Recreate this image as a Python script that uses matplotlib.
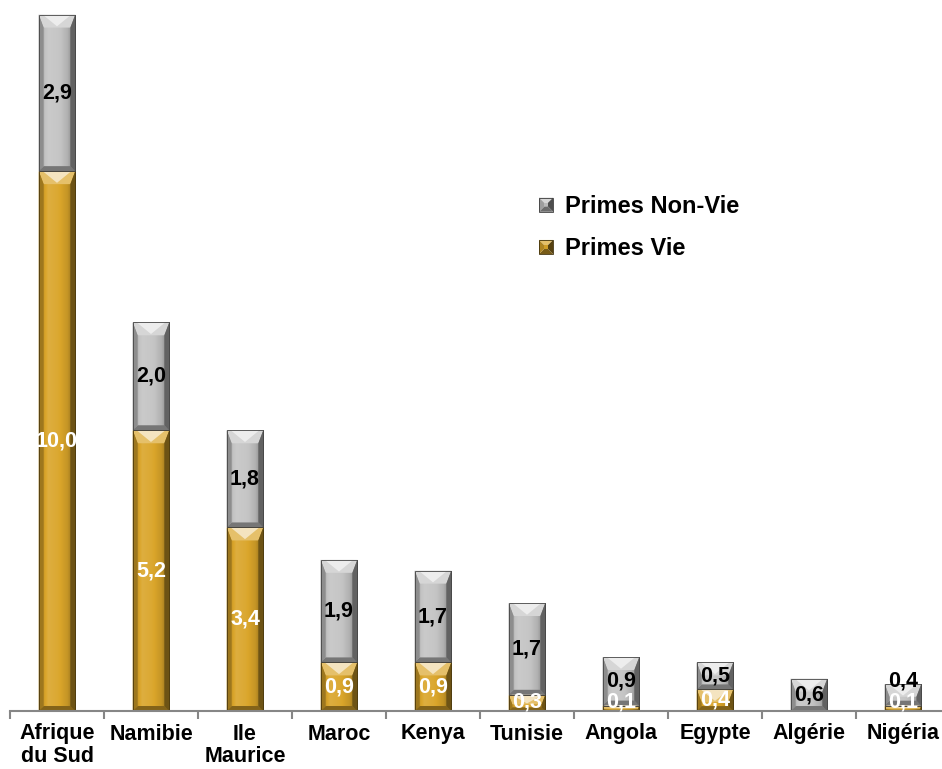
import numpy as np
import matplotlib
matplotlib.use("Agg")
import matplotlib.pyplot as plt
from matplotlib.patches import Polygon, Rectangle
from matplotlib.legend_handler import HandlerBase
from matplotlib.colors import to_rgb

# ---- data -------------------------------------------------------------
categories = ["Afrique\ndu Sud", "Namibie", "Ile\nMaurice", "Maroc", "Kenya",
              "Tunisie", "Angola", "Egypte", "Algérie", "Nigéria"]
primes_vie = [10.0, 5.2, 3.4, 0.9, 0.9, 0.3, 0.1, 0.4, 0.0, 0.1]
primes_non_vie = [2.9, 2.0, 1.8, 1.9, 1.7, 1.7, 0.9, 0.5, 0.6, 0.4]
series_names = ["Primes Vie", "Primes Non-Vie"]

GOLD = "#DAA52A"
GREY = "#C4C4C4"
AXIS_GREY = "#868686"

plt.rcParams['font.family'] = ['Liberation Sans', 'DejaVu Sans']


def shade(color, f):
    c = np.array(to_rgb(color))
    if f >= 1:
        return tuple(np.clip(c + (1 - c) * (f - 1), 0, 1))
    return tuple(c * f)


def fmt(v):
    return f"{v:.1f}".replace(".", ",")


fig = plt.figure(figsize=(9.42, 7.69), dpi=100)
ax = fig.add_axes([10 / 942, 58 / 769, 932 / 942, 711 / 769])
XLIM = (-0.5, -0.5 + 932 / 94)
YLIM = (0, 13.17)
ax.set_xlim(*XLIM)
ax.set_ylim(*YLIM)

x = np.arange(len(categories))
width = 0.39
bars_vie = ax.bar(x, primes_vie, width, color=GOLD, zorder=2)
bars_nv = ax.bar(x, primes_non_vie, width, bottom=primes_vie, color=GREY, zorder=2)

# data units per pixel
p0 = ax.transData.transform((0, 0))
p1 = ax.transData.transform((1, 1))
ux = 1.0 / (p1[0] - p0[0])
uy = 1.0 / (p1[1] - p0[1])

profile_x = [0.0, 0.08, 0.25, 0.5, 0.78, 0.9, 1.0]
profile_f = [0.6, 0.88, 1.1, 1.04, 0.9, 0.72, 0.5]


def bevel(patch, base):
    x0, y0 = patch.get_x(), patch.get_y()
    w, h = patch.get_width(), patch.get_height()
    if h <= 0:
        return
    x1, y1 = x0 + w, y0 + h
    h_px = h / uy
    s = min(1.0, h_px / 22.0)
    bs = 5 * s * ux
    bt = 13 * s * uy
    bb = 5 * s * uy
    # body gradient
    t = np.linspace(0, 1, 64)
    f = np.interp(t, profile_x, profile_f)
    img = np.array([[shade(base, v) for v in f]])
    im = ax.imshow(img, extent=(x0, x1, y0, y1), aspect='auto',
                   interpolation='bilinear', zorder=2.1)
    im.set_clip_path(patch)
    facets = [
        ([(x0, y1), (x1, y1), (x1 - bs, y1 - bt), (x0 + bs, y1 - bt)], shade(base, 1.3)),
        ([(x0, y0), (x1, y0), (x1 - bs, y0 + bb), (x0 + bs, y0 + bb)], shade(base, 0.6)),
        ([(x0, y0), (x0, y1), (x0 + bs, y1 - bt), (x0 + bs, y0 + bb)], shade(base, 0.72)),
        ([(x1, y0), (x1, y1), (x1 - bs, y1 - bt), (x1 - bs, y0 + bb)], shade(base, 0.5)),
    ]
    for pts, col in facets:
        ax.add_patch(Polygon(pts, closed=True, facecolor=col, edgecolor='none', zorder=2.2))
    xc = (x0 + x1) / 2
    ax.add_patch(Polygon([(x0 + bs * 0.8, y1), (x1 - bs * 0.8, y1), (xc, y1 - bt * 0.9)],
                         closed=True, facecolor=shade(base, 1.75), edgecolor='none',
                         alpha=0.9, zorder=2.3))
    ax.add_patch(Rectangle((x0, y0), w, h, facecolor='none',
                           edgecolor=shade(base, 0.35), lw=0.6, zorder=2.4))


for p in bars_vie:
    bevel(p, GOLD)
for p in bars_nv:
    bevel(p, GREY)

# value labels
LABEL_SIZE = 15.5
for i in range(len(categories)):
    v, nv = primes_vie[i], primes_non_vie[i]
    low_y = None
    if v > 0:
        low_y = max(v / 2, 0.17)
        ax.text(x[i], low_y, fmt(v), ha='center', va='center', color='white',
                fontsize=LABEL_SIZE, fontweight='bold', zorder=5)
    if nv > 0:
        y = v + nv / 2
        if low_y is not None:
            y = max(y, low_y + 0.38)
        else:
            y = max(y, 0.17)
        ax.text(x[i], y, fmt(nv), ha='center', va='center', color='black',
                fontsize=LABEL_SIZE, fontweight='bold', zorder=5)

# axes styling
for side in ("left", "top", "right"):
    ax.spines[side].set_visible(False)
ax.spines["bottom"].set_color(AXIS_GREY)
ax.spines["bottom"].set_linewidth(1.5)
ax.set_yticks([])
ax.set_xticks(x, categories, fontsize=15.5, fontweight='bold', linespacing=1.08)
ax.set_xticks(np.arange(-0.5, len(categories), 1), minor=True)
ax.tick_params(axis='x', which='major', length=0, pad=9)
ax.tick_params(axis='x', which='minor', length=6, width=1.5, color=AXIS_GREY)
ax.set_xlim(*XLIM)
ax.set_ylim(*YLIM)


class BevelSquare(HandlerBase):
    def create_artists(self, legend, orig_handle, xdescent, ydescent,
                       width, height, fontsize, trans):
        base = orig_handle.get_facecolor()
        size = min(width, height)
        x0 = -xdescent + (width - size) / 2
        y0 = -ydescent + (height - size) / 2
        x1, y1 = x0 + size, y0 + size
        d = size * 0.38
        cx0, cy0, cx1, cy1 = x0 + d, y0 + d, x1 - d, y1 - d
        parts = [
            ([(x0, y1), (x1, y1), (cx1, cy1), (cx0, cy1)], 1.3),
            ([(x0, y0), (x1, y0), (cx1, cy0), (cx0, cy0)], 0.55),
            ([(x0, y0), (x0, y1), (cx0, cy1), (cx0, cy0)], 0.8),
            ([(x1, y0), (x1, y1), (cx1, cy1), (cx1, cy0)], 0.4),
            ([(cx0, cy0), (cx1, cy0), (cx1, cy1), (cx0, cy1)], 0.95),
        ]
        arts = []
        for pts, f in parts:
            arts.append(Polygon(pts, closed=True, facecolor=shade(base, f),
                                edgecolor='none', transform=trans))
        arts.append(Rectangle((x0, y0), size, size, facecolor='none',
                              edgecolor=shade(base, 0.3), lw=0.6, transform=trans))
        return arts


handles = [Rectangle((0, 0), 1, 1, facecolor=GREY), Rectangle((0, 0), 1, 1, facecolor=GOLD)]
leg = ax.legend(handles, [series_names[1], series_names[0]],
                handler_map={Rectangle: BevelSquare()},
                loc='upper left', bbox_to_anchor=(539 / 942, 1 - 195 / 769),
                bbox_transform=fig.transFigure, frameon=False,
                prop={'size': 17, 'weight': 'bold'},
                handlelength=0.6, handleheight=0.6, handletextpad=0.5,
                labelspacing=0.82, borderpad=0, borderaxespad=0)

fig.savefig("out.png", dpi=100)
